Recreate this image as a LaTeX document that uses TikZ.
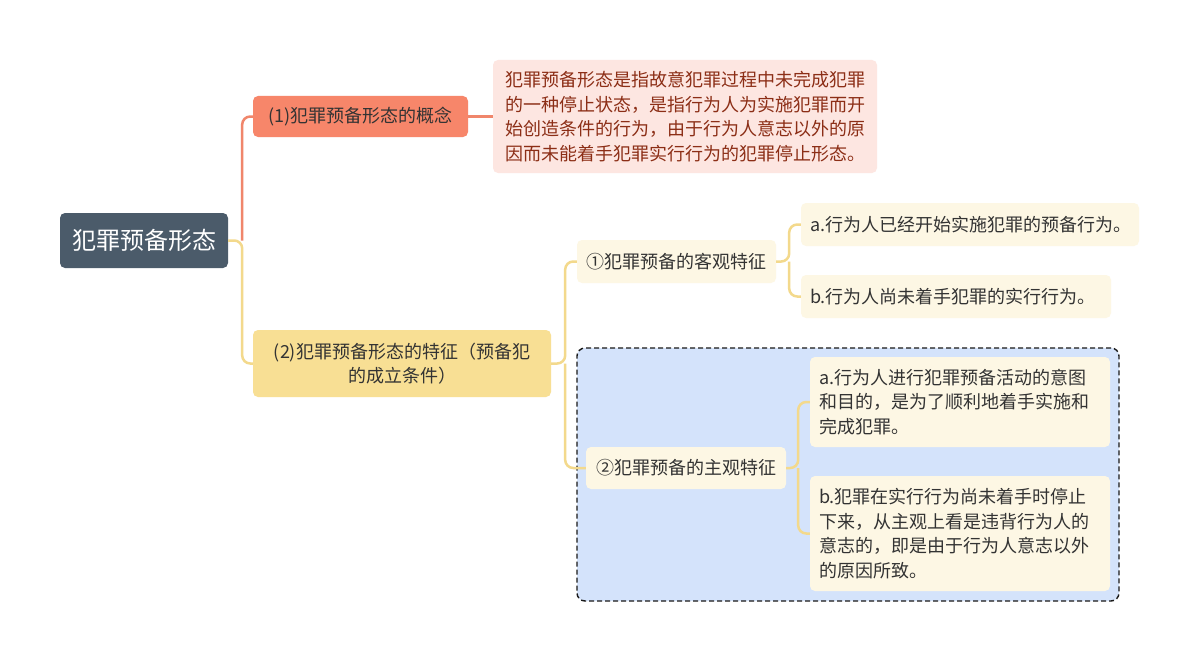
\documentclass[tikz,border=0pt]{standalone}
\usepackage{fontspec}
\setmainfont{Noto Sans CJK SC}
\definecolor{rootc}{HTML}{4B5B6A}
\definecolor{coral}{HTML}{F7866A}
\definecolor{coralln}{HTML}{F0866B}
\definecolor{pinkc}{HTML}{FDE6E1}
\definecolor{deftxt}{HTML}{8C2E16}
\definecolor{ylw}{HTML}{F8DF94}
\definecolor{ylwln}{HTML}{F3D98C}
\definecolor{cream}{HTML}{FDF7E4}
\definecolor{bluec}{HTML}{D4E3FB}
\definecolor{txt}{HTML}{333333}
\tikzset{
  box/.style={rectangle, rounded corners=5pt, inner sep=0pt, text=txt, font=\fontsize{18}{24.5}\selectfont},
  rootbox/.style={box, fill=rootc, text=white, font=\fontsize{24}{28}\selectfont},
  coralbox/.style={box, fill=coral},
  defbox/.style={box, fill=pinkc, text=deftxt, align=left},
  ylwbox/.style={box, fill=ylw, align=center},
  leafbox/.style={box, fill=cream},
  grpbox/.style={rectangle, rounded corners=8pt, fill=bluec, draw=black!90, dash pattern=on 5pt off 3pt, line width=1.4pt},
  cline/.style={draw=coralln, line width=2.5pt, rounded corners=8pt},
  yline/.style={draw=ylwln, line width=2.5pt, rounded corners=8pt}
}
\begin{document}
\begin{tikzpicture}[x=1pt,y=-1pt]
\useasboundingbox[fill=white] (0,0) rectangle (1200,661);
\node[grpbox, minimum width=542pt, minimum height=253pt] (grp) at (848,474.5) {};

\node[rootbox, minimum width=168pt, minimum height=55pt] (root) at (144,240.5) {犯罪预备形态};
\node[coralbox, minimum width=215pt, minimum height=41pt] (n1) at (360.5,116.5) {(1)犯罪预备形态的概念};
\node[defbox, minimum width=384pt, minimum height=113pt, text width=360pt] (def) at (685,116.5) {犯罪预备形态是指故意犯罪过程中未完成犯罪\\的一种停止状态，是指行为人为实施犯罪而开\\始创造条件的行为，由于行为人意志以外的原\\因而未能着手犯罪实行行为的犯罪停止形态。};
\node[ylwbox, minimum width=298pt, minimum height=67pt] (n2) at (402,363.5) {(2)犯罪预备形态的特征（预备犯\\的成立条件）};
\node[leafbox, minimum width=199pt, minimum height=43pt] (o1) at (676.5,261.5) {①犯罪预备的客观特征};
\node[leafbox, minimum width=338pt, minimum height=43pt, text width=320pt, align=left] (a1) at (970,224.5) {a.行为人已经开始实施犯罪的预备行为。};
\node[leafbox, minimum width=310pt, minimum height=43pt, text width=292pt, align=left] (b1) at (956,296.5) {b.行为人尚未着手犯罪的实行行为。};
\node[leafbox, minimum width=200pt, minimum height=42pt] (o2) at (686,468) {②犯罪预备的主观特征};
\node[leafbox, minimum width=300pt, minimum height=90pt, text width=282pt, align=left] (a2) at (960,402) {a.行为人进行犯罪预备活动的意图\\和目的，是为了顺利地着手实施和\\完成犯罪。};
\node[leafbox, minimum width=300pt, minimum height=115pt, text width=282pt, align=left] (b2) at (960,533.5) {b.犯罪在实行行为尚未着手时停止\\下来，从主观上看是违背行为人的\\意志的，即是由于行为人意志以外\\的原因所致。};

\draw[yline] (root.east) -- ++(14,0) |- (n2.west);
\draw[cline] (root.east) ++(14,0) |- (n1.west);
\draw[cline] (n1.east) -- (def.west);
\draw[yline] (n2.east) -- ++(14,0) |- (o1.west);
\draw[yline] (n2.east) ++(14,0) |- (o2.west);
\draw[yline] (o1.east) -- ++(13,0) |- (a1.west);
\draw[yline] (o1.east) ++(13,0) |- (b1.west);
\draw[yline] (o2.east) -- ++(12,0) |- (a2.west);
\draw[yline] (o2.east) ++(12,0) |- (b2.west);
\end{tikzpicture}
\end{document}
